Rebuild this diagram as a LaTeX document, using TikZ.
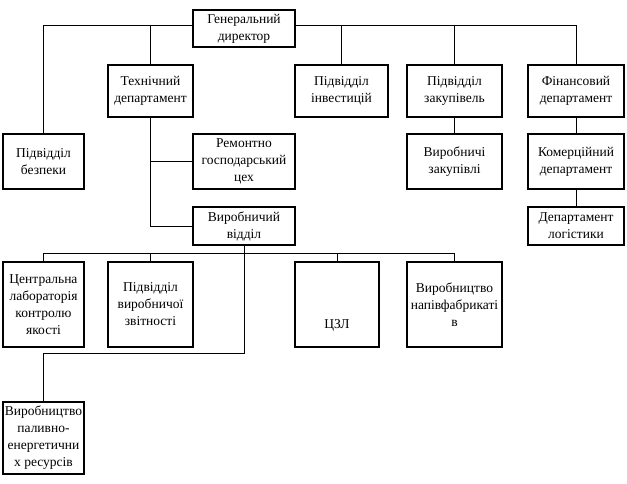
\documentclass[tikz,border=0pt]{standalone}
\usepackage{fontspec}
\setmainfont{Liberation Serif}
\usetikzlibrary{positioning}
\tikzstyle{unit} = [rectangle, draw=black, line width=1.5pt, align=center, inner sep=1pt, font=\fontsize{13.5}{17}\selectfont]
\tikzstyle{link} = [draw=black, line width=0.8pt]

\begin{document}
\begin{tikzpicture}[x=1pt, y=-1pt]
\useasboundingbox (0,0) rectangle (627,484);
% Top level
\node (gen) [unit, minimum width=102pt, minimum height=37pt] at (244,28.5) {Генеральний\\директор};

% Second row
\node (tech) [unit, minimum width=85pt, minimum height=52pt] at (150.5,91) {Технічний\\департамент};
\node (invest) [unit, minimum width=93pt, minimum height=52pt] at (341.5,91) {Підвідділ\\інвестицій};
\node (zakup) [unit, minimum width=95pt, minimum height=52pt] at (454.5,91) {Підвідділ\\закупівель};
\node (fin) [unit, minimum width=96pt, minimum height=52pt] at (576,91) {Фінансовий\\департамент};

% Third row
\node (bezp) [unit, minimum width=81pt, minimum height=55pt] at (43.5,161.5) {Підвідділ\\безпеки};
\node (remont) [unit, minimum width=102pt, minimum height=55pt] at (244,161.5) {Ремонтно\\господарський\\цех};
\node (vzakup) [unit, minimum width=95pt, minimum height=55pt] at (454.5,161.5) {Виробничі\\закупівлі};
\node (komerc) [unit, minimum width=96pt, minimum height=55pt] at (576,161.5) {Комерційний\\департамент};

% Fourth row
\node (vyrob) [unit, minimum width=102pt, minimum height=38pt] at (244,226) {Виробничий\\відділ};
\node (logist) [unit, minimum width=96pt, minimum height=38pt] at (576,226) {Департамент\\логістики};

% Production units
\node (lab) [unit, minimum width=81pt, minimum height=85pt] at (43.5,304.5) {Центральна\\лабораторія\\контролю\\якості};
\node (zvit) [unit, minimum width=85pt, minimum height=85pt] at (150.5,304.5) {Підвідділ\\виробничої\\звітності};
\node (czl) [unit, minimum width=84pt, minimum height=85pt] at (337,304.5) {\mbox{}\\\mbox{}\\\mbox{}\\ЦЗЛ};
\node (napiv) [unit, minimum width=95pt, minimum height=85pt] at (454.5,304.5) {Виробництво\\напівфабрикаті\\в};
\node (palyv) [unit, minimum width=81pt, minimum height=72pt] at (43.5,438) {Виробництво\\паливно-\\енергетични\\х ресурсів};

% Connectors
\coordinate (busL) at ([yshift=3.5pt]gen.west);
\coordinate (busR) at ([yshift=3.5pt]gen.east);
\coordinate (busB) at ([yshift=-8pt]vyrob.south);
\coordinate (bend) at ([yshift=-6pt]lab.south);

\draw[link] (busL) -| (bezp.north);
\draw[link] (tech.north) -- (tech.north |- busL);
\draw[link] (busR) -| (fin.north);
\draw[link] (invest.north) -- (invest.north |- busR);
\draw[link] (zakup.north) -- (zakup.north |- busR);

\draw[link] (tech.south) |- (vyrob.west);
\draw[link] (tech.south |- remont.west) -- (remont.west);
\draw[link] (zakup) -- (vzakup);
\draw[link] (fin) -- (komerc);
\draw[link] (komerc) -- (logist);

\draw[link] (lab.north) |- (busB) -| (napiv.north);
\draw[link] (zvit.north) -- (zvit.north |- busB);
\draw[link] (czl.north) -- (czl.north |- busB);
\draw[link] (vyrob.south) |- (bend) -- (palyv.north);
\end{tikzpicture}
\end{document}
